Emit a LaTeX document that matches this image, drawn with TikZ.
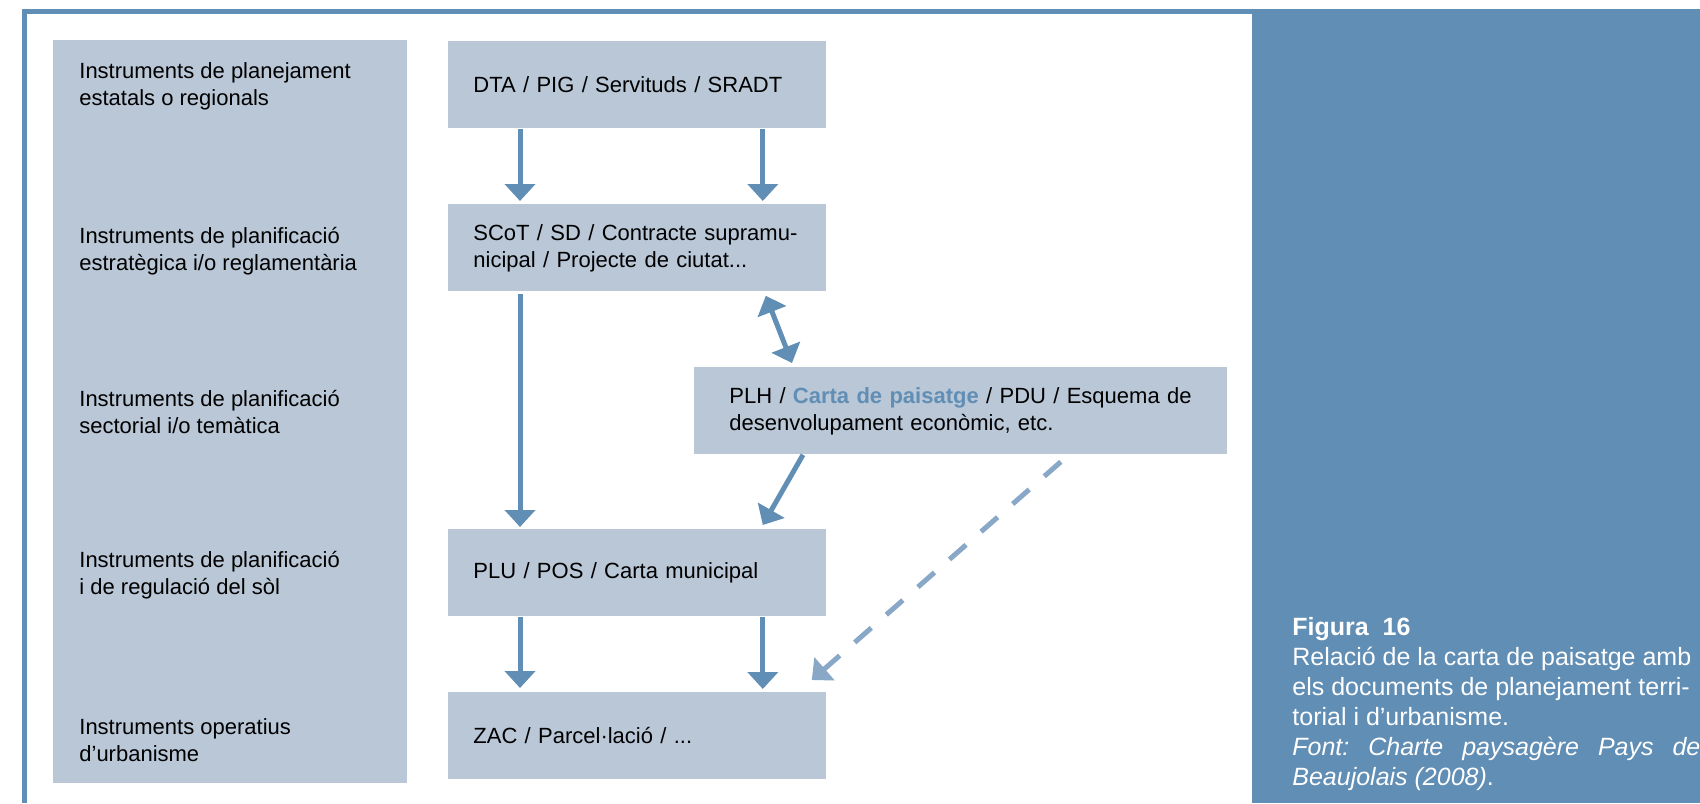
\documentclass[tikz,border=0pt]{standalone}
\usepackage{fontspec}
\setmainfont{Liberation Sans}
\usepackage{tikz}
\usetikzlibrary{arrows.meta}
\definecolor{panelblue}{RGB}{97,142,181}
\definecolor{boxgrey}{RGB}{185,199,215}
\definecolor{dashblue}{RGB}{137,167,199}
\frenchspacing

\begin{document}
\begin{tikzpicture}[x=0.5pt, y=-0.5pt,
	every node/.style={font=\fontsize{11}{13.5}\selectfont, inner sep=0pt},
	box/.style={fill=boxgrey, anchor=north west, inner xsep=12.5pt, text width=164pt, minimum height=43.5pt, align=left},
	widebox/.style={box, inner xsep=17.5pt, text width=231.5pt},
	level/.style={anchor=west, align=left},
	arr/.style={draw=panelblue, line width=2.5pt, -{Triangle[width=15pt,length=8.5pt]}},
	arrboth/.style={draw=panelblue, line width=2.5pt, {Triangle[width=15pt,length=8.5pt]}-{Triangle[width=15pt,length=8.5pt]}},
	arrdash/.style={draw=dashblue, line width=2.5pt, dash pattern=on 11pt off 10pt, -{Triangle[width=15pt,length=8.5pt]}}]
					\useasboundingbox (0,0) rectangle (1700,803);
					\fill[white] (0,0) rectangle (1700,803);
					\fill[panelblue] (1252,9) rectangle (1700,803);
					\draw[panelblue, line width=2.5pt] (24.5,803) -- (24.5,11.5) -- (1252,11.5);
					\fill[boxgrey] (53,40) rectangle (407,783);
					
					\node[level] (lev1) at (79,86) {Instruments de planejament\\estatals o regionals};
					\node[level] (lev2) at (79,251) {Instruments de planificació\\estratègica i/o reglamentària};
					\node[level] (lev3) at (79,412) {Instruments de planificació\\sectorial i/o temàtica};
					\node[level] (lev4) at (79,575) {Instruments de planificació\\i de regulació del sòl};
					\node[level] (lev5) at (79,740) {Instruments operatius\\d’urbanisme};
					
					\node[box] (dta) at (448,41) {DTA / PIG / Servituds / SRADT};
					\node[box] (scot) at (448,204) {SCoT / SD / Contracte supramu-\\nicipal / Projecte de ciutat...};
					\node[widebox] (plh) at (694,367) {PLH / \textbf{\color{panelblue}Carta de paisatge} / PDU / Esquema de\\desenvolupament econòmic, etc.};
					\node[box] (plu) at (448,529) {PLU / POS / Carta municipal};
					\node[box] (zac) at (448,692) {ZAC / Parcel·lació / ...};
					
					\draw[arr] ([xshift=36pt]dta.south west) -- ([xshift=36pt,yshift=1.5pt]scot.north west);
					\draw[arr] ([xshift=-32pt]dta.south east) -- ([xshift=-32pt,yshift=1.5pt]scot.north east);
					\draw[arr] ([xshift=36pt,yshift=-1pt]scot.south west) -- ([xshift=36pt,yshift=1pt]plu.north west);
					\draw[arrboth] ([xshift=-30.5pt,yshift=-2pt]scot.south east) -- ([xshift=49pt,yshift=2pt]plh.north west);
					\draw[arr] ([xshift=54.5pt]plh.south west) -- ([xshift=-32pt,yshift=2pt]plu.north east);
					\draw[arr] ([xshift=36pt]plu.south west) -- ([xshift=36pt,yshift=2pt]zac.north west);
					\draw[arr] ([xshift=-32pt]plu.south east) -- ([xshift=-32pt,yshift=1.5pt]zac.north east);
					\draw[arrdash] ([xshift=-83.5pt,yshift=-3.5pt]plh.south east) -- ([xshift=-7.5pt,yshift=6pt]zac.north east);
					
					\node[anchor=north west, align=left, text=white, font=\fontsize{12.5}{15}\selectfont] (caption) at (1292,617) {\textbf{Figura\ \ 16}\\Relació de la carta de paisatge amb\\els documents de planejament terri-\\torial i d’urbanisme.\\\textit{\makebox[204pt][s]{Font: Charte paysagère Pays de}}\\\textit{Beaujolais (2008)}.};
				\end{tikzpicture}
\end{document}
